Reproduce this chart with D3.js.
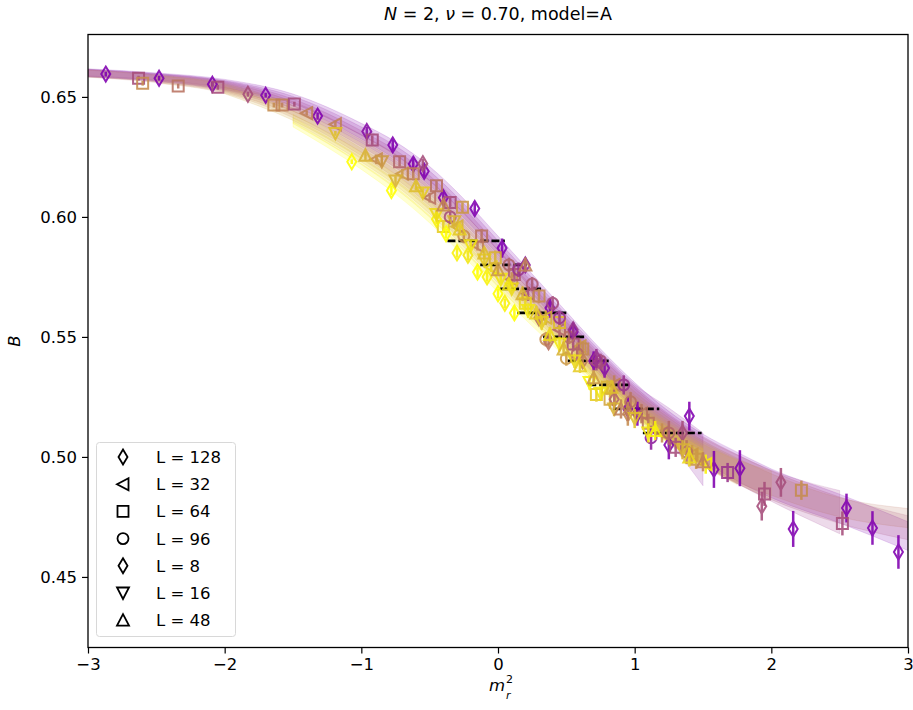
<!DOCTYPE html>
<html>
<head>
<meta charset="utf-8">
<script src="https://cdn.jsdelivr.net/npm/d3@7"></script>
<style>
  body { margin: 0; background: #fff; }
  text { font-family: "DejaVu Sans", sans-serif; }
</style>
</head>
<body>
<div id="chart"></div>
<script>
// ---------------------------------------------------------------------------
// data : each point is [m_r^2, B, error, colour parameter 0 (purple) .. 1 (yellow)]
// ---------------------------------------------------------------------------

var seriesNames = ["L = 128", "L = 32", "L = 64", "L = 96", "L = 8", "L = 16", "L = 48"];

var s128 = [[-2.87,0.6595,0.001,0.0],[-2.48,0.6578,0.001,0.0],[-2.09,0.6553,0.001,0.0],[-1.70,0.6507,0.001,0.0],
  [-1.32,0.6420,0.0015,0.0],[-0.96,0.6356,0.002,0.05],[-0.77,0.6300,0.003,0.0],[-0.62,0.6220,0.003,0.0],
  [-0.54,0.6190,0.003,0.0],[-0.40,0.6080,0.003,0.0],[-0.17,0.6035,0.003,0.0],[0.03,0.5870,0.004,0.0],
  [0.20,0.5800,0.003,0.1],[0.38,0.5620,0.004,0.0],[0.55,0.5520,0.004,0.0],[0.70,0.5400,0.004,0.0],
  [0.78,0.5370,0.004,0.05],[0.95,0.5200,0.005,0.0],[1.02,0.5180,0.005,0.0],[1.25,0.5050,0.006,0.0],
  [1.40,0.5170,0.006,0.0],[1.58,0.4948,0.0077,0.0],[1.77,0.4953,0.0075,0.0],[2.16,0.4700,0.0075,0.0],
  [2.55,0.4787,0.006,0.0],[2.74,0.4704,0.007,0.0],[2.93,0.4604,0.007,0.0]];

var s32 = [[-1.40,0.6432,0.001,0.5],[-1.19,0.6386,0.0015,0.5],[-0.89,0.6240,0.002,0.55],[-0.70,0.6180,0.002,0.6],
  [-0.50,0.6080,0.002,0.45],[-0.30,0.5960,0.002,0.7],[-0.15,0.5880,0.002,0.5],[-0.05,0.5790,0.002,0.85],
  [0.10,0.5740,0.003,0.55],[0.22,0.5680,0.003,0.3],[0.35,0.5580,0.003,0.7],[0.45,0.5530,0.003,0.4],
  [0.60,0.5460,0.003,0.6],[0.72,0.5390,0.003,0.3],[0.85,0.5300,0.004,0.5],[1.05,0.5180,0.004,0.45],
  [1.20,0.5100,0.004,0.55],[1.42,0.5010,0.004,0.6],[1.52,0.4970,0.004,0.95]];

var s64 = [[-2.63,0.6578,0.001,0.3],[-2.60,0.6557,0.001,0.55],[-2.34,0.6545,0.001,0.45],[-2.05,0.6540,0.001,0.3],
  [-1.64,0.6466,0.001,0.55],[-1.58,0.6466,0.001,0.5],[-1.49,0.6470,0.001,0.3],[-0.92,0.6320,0.002,0.3],
  [-0.72,0.6230,0.002,0.4],[-0.62,0.6180,0.002,0.5],[-0.45,0.6130,0.002,0.45],[-0.35,0.6060,0.002,0.3],
  [-0.26,0.6040,0.002,0.6],[-0.40,0.5960,0.002,0.8],[-0.12,0.5920,0.003,0.45],[-0.02,0.5830,0.003,0.7],
  [0.12,0.5760,0.003,0.35],[0.20,0.5640,0.003,0.85],[0.30,0.5670,0.003,0.55],[0.45,0.5560,0.003,0.75],
  [0.55,0.5470,0.003,0.3],[0.62,0.5450,0.003,0.55],[0.80,0.5290,0.003,0.7],[0.72,0.5260,0.003,0.8],
  [0.82,0.5240,0.004,0.65],[1.10,0.5140,0.004,0.45],[1.30,0.5040,0.004,0.3],[1.45,0.4990,0.004,0.6],
  [1.68,0.4935,0.004,0.2],[1.95,0.4846,0.005,0.3],[2.22,0.4861,0.004,0.55],[2.52,0.4723,0.005,0.3]];

var s96 = [[-0.35,0.6000,0.003,0.3],[-0.25,0.5920,0.003,0.55],[0.08,0.5800,0.003,0.4],[0.15,0.5780,0.003,0.2],
  [0.25,0.5720,0.003,0.35],[0.40,0.5640,0.003,0.3],[0.45,0.5580,0.003,0.2],[0.52,0.5500,0.003,0.45],
  [0.35,0.5490,0.003,0.55],[0.50,0.5410,0.003,0.6],[0.58,0.5430,0.003,0.4],[0.75,0.5400,0.003,0.3],
  [0.92,0.5300,0.004,0.2],[0.97,0.5230,0.004,0.45],[1.12,0.5080,0.005,0.1],[1.25,0.5100,0.005,0.4],
  [1.38,0.5020,0.005,0.45]];

var s8 = [[-1.83,0.6511,0.001,0.3],[-1.07,0.6230,0.001,1.0],[-0.78,0.6110,0.002,1.0],[-0.55,0.6222,0.002,0.3],
  [-0.45,0.5990,0.002,0.95],[-0.38,0.5930,0.002,1.0],[-0.30,0.5850,0.002,0.95],[-0.22,0.5840,0.002,0.9],
  [-0.15,0.5770,0.002,1.0],[-0.08,0.5750,0.002,0.95],[0.00,0.5680,0.002,1.0],[0.05,0.5640,0.002,0.95],
  [0.12,0.5600,0.003,1.0],[0.30,0.5580,0.003,0.4],[0.37,0.5480,0.003,0.45],[0.55,0.5530,0.003,0.2],
  [0.62,0.5400,0.003,0.5],[0.72,0.5410,0.004,0.2],[0.85,0.5240,0.004,0.4],[0.95,0.5180,0.005,0.55],
  [1.35,0.5100,0.005,0.3],[1.93,0.4795,0.006,0.3],[2.07,0.4894,0.006,0.3]];

var s16 = [[-1.19,0.6348,0.001,0.75],[-0.85,0.6230,0.002,0.6],[-0.75,0.6150,0.002,0.7],[-0.55,0.6100,0.002,0.8],
  [-0.45,0.6010,0.002,0.85],[-0.32,0.5980,0.002,0.7],[-0.20,0.5880,0.002,0.9],[-0.10,0.5820,0.002,0.8],
  [0.02,0.5740,0.002,0.9],[0.10,0.5700,0.002,0.85],[0.22,0.5610,0.003,0.9],[0.32,0.5560,0.003,0.8],
  [0.45,0.5470,0.003,0.9],[0.56,0.5400,0.003,0.85],[0.67,0.5310,0.003,0.95],[0.75,0.5265,0.003,0.9],
  [0.85,0.5200,0.003,0.7],[1.00,0.5160,0.004,0.75],[1.10,0.5100,0.004,0.9],[1.35,0.5030,0.004,0.7]];

var s48 = [[-0.97,0.6257,0.002,0.7],[-0.60,0.6130,0.002,0.75],[-0.40,0.6050,0.002,0.55],[-0.28,0.5950,0.002,0.8],
  [-0.10,0.5850,0.002,0.75],[0.00,0.5780,0.002,0.6],[0.08,0.5720,0.002,0.9],[0.18,0.5680,0.003,0.7],
  [0.20,0.5800,0.003,0.5],[0.28,0.5600,0.003,0.8],[0.38,0.5510,0.003,0.85],[0.48,0.5450,0.003,0.7],
  [0.60,0.5380,0.003,0.8],[0.70,0.5330,0.003,0.6],[0.83,0.5290,0.003,0.75],[0.90,0.5200,0.004,0.5],
  [1.15,0.5110,0.004,0.95],[1.40,0.5000,0.004,0.85],[1.50,0.4980,0.004,0.5]];

var seriesData = [s128, s32, s64, s96, s8, s16, s48];

// fitted bands: centre and half width at fixed knots (null = band not drawn there)
var bandKnots = [-3,-2.5,-2,-1.5,-1,-0.75,-0.5,-0.25,0,0.25,0.5,0.75,1,1.25,1.5,1.75,2,2.5,3];
var bandT = [0.0, 0.1, 0.2, 0.3, 0.45, 0.55, 0.65, 0.75, 0.85, 1.0];
var bandMid = [
  [.6602,.6585,.6555,.6492,.6365,.6285,.6180,.6045,.5890,.5730,.5570,.5410,.5265,.5140,.5040,.4960,.4890,.4785,.4670],
  [.6600,.6582,.6550,.6482,.6350,.6268,.6161,.6025,.5871,.5713,.5556,.5399,.5257,.5134,.4990,null,null,null,null],
  [.6599,.6580,.6547,.6471,.6334,.6250,.6142,.6006,.5852,.5696,.5542,.5388,.5248,.5128,.5030,.4950,.4880,.4770,null],
  [.6598,.6578,.6543,.6460,.6318,.6233,.6123,.5986,.5833,.5679,.5528,.5377,.5240,.5122,.5025,.4948,.4882,.4778,.4705],
  [.6597,.6575,.6538,.6444,.6295,.6206,.6095,.5957,.5805,.5654,.5507,.5361,.5227,.5113,.5018,.4945,.4885,.4790,.4745],
  [null,.6572,.6533,.6433,.6280,.6189,.6076,.5938,.5786,.5637,.5493,.5350,.5218,.5107,.5012,.4940,.4880,null,null],
  [null,null,.6528,.6422,.6264,.6171,.6057,.5918,.5767,.5620,.5479,.5339,.5210,.5101,.5008,.4935,null,null,null],
  [null,null,null,.6412,.6249,.6154,.6038,.5899,.5748,.5603,.5465,.5328,.5201,.5095,.5003,null,null,null,null],
  [null,null,null,.6401,.6233,.6136,.6019,.5879,.5729,.5586,.5451,.5317,.5193,.5089,.4998,null,null,null,null],
  [null,null,null,.6385,.6210,.6110,.5990,.5850,.5700,.5560,.5430,.5300,.5180,.5080,.4990,null,null,null,null]
];
var bandHalf = [
  [.0015,.0015,.0018,.002,.0025,.0028,.003,.003,.003,.0032,.0035,.004,.0045,.005,.0055,.006,.006,.006,.006],
  [.0015,.0015,.0018,.002,.0025,.0028,.003,.003,.003,.0032,.0035,.004,.0045,.007,.011,null,null,null,null],
  [.0015,.0015,.0018,.002,.0025,.0028,.003,.003,.003,.0032,.0035,.004,.0045,.005,.0055,.006,.0065,.009,null],
  [.0015,.0015,.0018,.002,.0025,.0028,.003,.003,.003,.0032,.0035,.004,.0045,.005,.0055,.006,.006,.0055,.005],
  [.0015,.0015,.0018,.002,.0025,.0028,.003,.003,.003,.0032,.0035,.004,.0045,.005,.005,.005,.0045,.004,.004],
  [null,.0015,.0018,.002,.0025,.0028,.003,.003,.003,.003,.003,.0035,.004,.0045,.005,.005,.006,null,null],
  [null,null,.0015,.002,.0022,.0025,.0028,.0028,.003,.003,.003,.0032,.0035,.004,.0045,.005,null,null,null],
  [null,null,null,.0015,.002,.0022,.0025,.0025,.0025,.0025,.0028,.003,.0032,.0035,.004,null,null,null,null],
  [null,null,null,.0012,.0015,.0018,.002,.002,.002,.002,.0022,.0025,.0028,.003,.0035,null,null,null,null],
  [null,null,null,.001,.0012,.0015,.0015,.0015,.0015,.0015,.0018,.002,.0022,.0025,.003,null,null,null,null]
];

// horizontal black dashed guide segments
var dashLevels = [0.59, 0.58, 0.57, 0.56, 0.55, 0.54, 0.53, 0.52, 0.51];
var dashStart  = [-0.37, -0.13, 0.015, 0.14, 0.33, 0.51, 0.66, 0.84, 1.06];
var dashEnd    = [0.05, 0.21, 0.33, 0.50, 0.65, 0.82, 0.98, 1.18, 1.49];

var xTicks = [-3, -2, -1, 0, 1, 2, 3];
var yTicks = [0.45, 0.50, 0.55, 0.60, 0.65];

// ---------------------------------------------------------------------------
// SVG
// ---------------------------------------------------------------------------

var W = 913, H = 710;
var plot = { left: 88, right: 908, top: 34.5, bottom: 647.5 };

var svg = d3.select("#chart").append("svg")
    .attr("width", W)
    .attr("height", H);

var x = d3.scaleLinear().domain([-3, 3]).range([plot.left, plot.right]);
var y = d3.scaleLinear().domain([0.4206, 0.676]).range([plot.bottom, plot.top]);

// colour parameter: straight rgb mix purple -> yellow
var color = d3.scaleLinear().domain([0, 1]).range(["#8000b0", "#ffff00"]).interpolate(d3.interpolateRgb);

svg.append("clipPath").attr("id", "clip")
  .append("rect")
    .attr("x", plot.left).attr("y", plot.top)
    .attr("width", plot.right - plot.left).attr("height", plot.bottom - plot.top);

var g = svg.append("g").attr("clip-path", "url(#clip)");

// bands
var area = d3.area()
    .x(function(d) { return x(d.x); })
    .y0(function(d) { return y(d.lo); })
    .y1(function(d) { return y(d.hi); })
    .curve(d3.curveMonotoneX);

bandT.forEach(function(t, b) {
  var pts = [];
  bandKnots.forEach(function(k, i) {
    if (bandMid[b][i] !== null) {
      pts.push({ x: k, lo: bandMid[b][i] - bandHalf[b][i], hi: bandMid[b][i] + bandHalf[b][i] });
    }
  });
  g.append("path")
    .datum(pts)
    .attr("d", area)
    .attr("fill", color(t))
    .attr("fill-opacity", 0.18)
    .attr("stroke", color(t))
    .attr("stroke-opacity", 0.15)
    .attr("stroke-width", 1);
});

// dashed guides
dashLevels.forEach(function(lv, i) {
  g.append("line")
    .attr("x1", x(dashStart[i])).attr("x2", x(dashEnd[i]))
    .attr("y1", y(lv)).attr("y2", y(lv))
    .attr("stroke", "#000")
    .attr("stroke-width", 2.6)
    .attr("stroke-dasharray", "8,3");
});

// marker shapes (pixel paths centred at 0,0)
var markerPath = {
  diamond:  "M0,-7.5L4.5,0L0,7.5L-4.5,0Z",
  triLeft:  "M-6,0L5.5,-6L5.5,6Z",
  square:   "M-5.5,-5.5H5.5V5.5H-5.5Z",
  circle:   "M5.5,0A5.5,5.5 0 1,1 -5.5,0A5.5,5.5 0 1,1 5.5,0Z",
  triDown:  "M-6,-5.5L6,-5.5L0,6Z",
  triUp:    "M0,-6L6,5.5L-6,5.5Z"
};
var seriesMarker = ["diamond", "triLeft", "square", "circle", "diamond", "triDown", "triUp"];

seriesData.forEach(function(data, s) {
  var sg = g.append("g");
  var pt = sg.selectAll("g.pt")
    .data(data)
    .enter().append("g")
      .attr("class", "pt")
      .attr("opacity", 0.88);

  pt.append("line")
    .attr("x1", function(d) { return x(d[0]); })
    .attr("x2", function(d) { return x(d[0]); })
    .attr("y1", function(d) { return y(d[1] - d[2]); })
    .attr("y2", function(d) { return y(d[1] + d[2]); })
    .attr("stroke", function(d) { return color(d[3]); })
    .attr("stroke-width", 2.5);

  pt.append("path")
    .attr("d", markerPath[seriesMarker[s]])
    .attr("transform", function(d) { return "translate(" + x(d[0]) + "," + y(d[1]) + ")"; })
    .attr("fill", "none")
    .attr("stroke", function(d) { return color(d[3]); })
    .attr("stroke-width", 2);
});

// ---------------------------------------------------------------------------
// Axes
// ---------------------------------------------------------------------------

var xAxis = svg.append("g")
    .attr("transform", "translate(0," + plot.bottom + ")")
    .call(d3.axisBottom(x).tickValues(xTicks).tickSize(6).tickPadding(5).tickFormat(d3.format("d")));

var yAxis = svg.append("g")
    .attr("transform", "translate(" + plot.left + ",0)")
    .call(d3.axisLeft(y).tickValues(yTicks).tickSize(6).tickPadding(5).tickFormat(d3.format(".2f")));

[xAxis, yAxis].forEach(function(ax) {
  ax.select(".domain").remove();
  ax.selectAll(".tick line").attr("stroke", "#000").attr("stroke-width", 1.2);
  ax.selectAll(".tick text")
    .attr("fill", "#000")
    .style("font-size", "16.5px")
    .style("font-family", "'DejaVu Sans', sans-serif");
});

svg.append("rect")
  .attr("x", plot.left).attr("y", plot.top)
  .attr("width", plot.right - plot.left).attr("height", plot.bottom - plot.top)
  .attr("fill", "none")
  .attr("stroke", "#000")
  .attr("stroke-width", 1.3);

// title
var title = svg.append("text")
    .attr("x", (plot.left + plot.right) / 2)
    .attr("y", 20)
    .attr("text-anchor", "middle")
    .style("font-size", "17.5px");
title.append("tspan").style("font-style", "italic").text("N");
title.append("tspan").text(" = 2, ");
title.append("tspan").style("font-style", "italic").text("ν");
title.append("tspan").text(" = 0.70, model=A");

// x label m_r^2 : sub- and superscript stacked after the m
var xlX = (plot.left + plot.right) / 2 - 9;
svg.append("text")
  .attr("x", xlX)
  .attr("y", 691)
  .style("font-size", "16.5px")
  .style("font-style", "italic")
  .text("m");
svg.append("text")
  .attr("x", xlX + 17)
  .attr("y", 699)
  .style("font-size", "11px")
  .style("font-style", "italic")
  .text("r");
svg.append("text")
  .attr("x", xlX + 17)
  .attr("y", 683)
  .style("font-size", "11px")
  .text("2");

// y label
svg.append("text")
  .attr("transform", "translate(20," + ((plot.top + plot.bottom) / 2) + ") rotate(-90)")
  .attr("text-anchor", "middle")
  .style("font-size", "16.5px")
  .style("font-style", "italic")
  .text("B");

// ---------------------------------------------------------------------------
// Legend
// ---------------------------------------------------------------------------

var leg = svg.append("g");
leg.append("rect")
  .attr("x", 96.5).attr("y", 442.5)
  .attr("width", 139).attr("height", 194)
  .attr("rx", 3)
  .attr("fill", "#fff")
  .attr("fill-opacity", 0.85)
  .attr("stroke", "#d8d8d8")
  .attr("stroke-width", 1);

seriesNames.forEach(function(name, i) {
  var yy = 457 + i * 27.2;
  leg.append("path")
    .attr("d", markerPath[seriesMarker[i]])
    .attr("transform", "translate(123," + yy + ")")
    .attr("fill", "none")
    .attr("stroke", "#000")
    .attr("stroke-width", 1.8);
  leg.append("text")
    .attr("x", 156)
    .attr("y", yy + 6)
    .style("font-size", "16.5px")
    .text(name);
});
</script>
</body>
</html>
